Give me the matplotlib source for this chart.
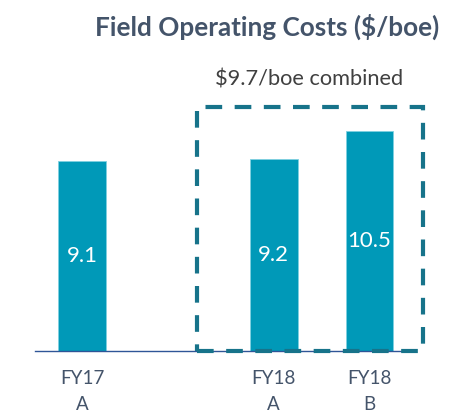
import matplotlib.pyplot as plt
from matplotlib.patches import Rectangle

# 数据
categories = ["FY17\nA", "FY18\nA", "FY18\nB"]
values = [9.1, 9.2, 10.5]
combined_label = "$9.7/boe combined"
title = "Field Operating Costs ($/boe)"

plt.rcParams["font.family"] = ["Lato", "DejaVu Sans"]

bar_color = "#0099B8"
box_color = "#17738A"
text_color = "#44546A"

fig = plt.figure(figsize=(4.58, 4.13), dpi=100)
ax = fig.add_axes([35/458, 62/413, 380/458, 291/413])

# FY17 单独一组，FY18 两根靠在一起
xpos = [0, 2, 3]
bars = ax.bar(xpos, values, width=0.5, color=bar_color, edgecolor="#7FD0E0", linewidth=0.6)

for x, v in zip(xpos, values):
    ax.text(x, v / 2, f"{v:.1f}", ha="center", va="center", color="white", fontsize=16)

ax.set_xlim(-0.49, 3.475)
ax.set_ylim(0, 13.92)

ax.set_xticks(xpos)
ax.set_xticklabels(categories, fontsize=13.5, color=text_color, linespacing=1.6)
ax.tick_params(axis="x", length=0, pad=14)
ax.set_yticks([])
for s in ["top", "right", "left"]:
    ax.spines[s].set_visible(False)
ax.spines["bottom"].set_color("#2F5597")
ax.spines["bottom"].set_linewidth(1)

# 虚线框
box = Rectangle((1.20, 0), 3.56 - 1.20, 11.67, fill=False, edgecolor=box_color,
                linewidth=3, linestyle=(0, (4, 3)), clip_on=False, zorder=3)
ax.add_patch(box)
ax.text(2.37, 12.97, combined_label, ha="center", va="center", fontsize=15.7,
        color="#404040", clip_on=False)

fig.text(267/458, 1 - 27/413, title, ha="center", va="center", fontsize=18.8,
         fontweight="bold", color=text_color)

plt.savefig("out.png", dpi=100)
